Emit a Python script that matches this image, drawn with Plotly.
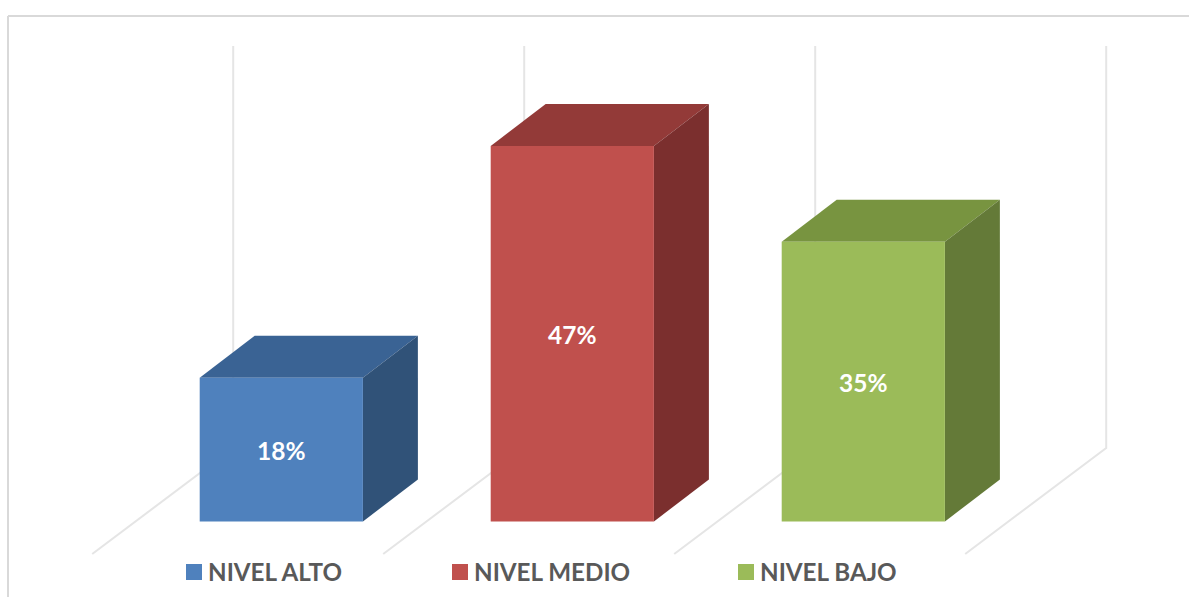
import plotly.graph_objects as go

# Chart data
categories = ["NIVEL ALTO", "NIVEL MEDIO", "NIVEL BAJO"]
values = [18, 47, 35]
labels = ["18%", "47%", "35%"]

# Face colours of each box
front_colors = ["#4f81bd", "#c0504d", "#9bbb59"]
side_colors = ["#305278", "#7b2f2e", "#647a38"]
top_colors = ["#3a6394", "#933a38", "#789440"]

WIDTH, HEIGHT = 1189, 597
PX_PER_CATEGORY = 291.0
PX_PER_PERCENT = 7.99
ORIGIN_X, ORIGIN_Y = 281.3, 521.5  # pixel position of category 0, value 0


def px_x(px):
    return px / PX_PER_CATEGORY


def px_y(px):
    return px / PX_PER_PERCENT


# Projection sizes of the oblique boxes, in axis units
half_width = px_x(81.6)
depth_x, depth_y = px_x(55), px_y(42)

# Floor and back-wall lines
wall_top = 50.3
wall_dx, wall_dy = px_x(33.5), px_y(73.5)  # from a box's front-left corner to the wall foot
floor_dx, floor_dy = px_x(-141), px_y(-106)
label_drop = px_y(4.5)

fig = go.Figure()


def polygon(xs, ys, color):
    fig.add_trace(go.Scatter(
        x=xs + xs[:1], y=ys + ys[:1], mode="lines", fill="toself",
        fillcolor=color, line=dict(color=color, width=0),
        hoverinfo="skip", showlegend=False,
    ))


# Gridlines: one wall line plus floor line per category boundary
for i in range(len(categories) + 1):
    foot_x = i - half_width + wall_dx
    fig.add_trace(go.Scatter(
        x=[foot_x, foot_x, foot_x + floor_dx],
        y=[wall_dy + wall_top, wall_dy, wall_dy + floor_dy],
        mode="lines", line=dict(color="#e5e5e5", width=2),
        hoverinfo="skip", showlegend=False,
    ))

# Boxes: top, side and front faces
for i, value in enumerate(values):
    left, right = i - half_width, i + half_width
    polygon([left, right, right + depth_x, left + depth_x],
            [value, value, value + depth_y, value + depth_y], top_colors[i])
    polygon([right, right + depth_x, right + depth_x, right],
            [0, depth_y, value + depth_y, value], side_colors[i])
    polygon([left, right, right, left], [0, 0, value, value], front_colors[i])

# Value labels centred on the front faces
fig.add_trace(go.Scatter(
    x=list(range(len(categories))), y=[v / 2 - label_drop for v in values],
    mode="text", text=labels, textposition="middle center",
    textfont=dict(family="Lato", size=24.5, color="#ffffff", weight="bold"),
    hoverinfo="skip", showlegend=False,
))

# Legend row
legend_left = [186, 452, 738]
legend_shapes = []
legend_notes = []
for name, color, left in zip(categories, front_colors, legend_left):
    legend_shapes.append(dict(
        type="rect", xref="paper", yref="paper",
        x0=left / WIDTH, x1=(left + 16) / WIDTH,
        y0=1 - 580 / HEIGHT, y1=1 - 564 / HEIGHT,
        fillcolor=color, line=dict(width=0),
    ))
    legend_notes.append(dict(
        text=name, xref="paper", yref="paper",
        x=(left + 20) / WIDTH, y=1 - 571 / HEIGHT,
        xanchor="left", yanchor="middle", showarrow=False,
        font=dict(family="Lato", size=24.2, color="#595959", weight="bold"),
    ))

# Outer frame on the left and top edges
frame_color = "#d9d9d9"
frame = [
    dict(type="line", xref="paper", yref="paper",
         x0=8 / WIDTH, x1=8 / WIDTH, y0=0, y1=1 - 16 / HEIGHT,
         line=dict(color=frame_color, width=2)),
    dict(type="line", xref="paper", yref="paper",
         x0=8 / WIDTH, x1=1, y0=1 - 16 / HEIGHT, y1=1 - 16 / HEIGHT,
         line=dict(color=frame_color, width=2)),
]

fig.update_layout(
    width=WIDTH, height=HEIGHT,
    margin=dict(l=0, r=0, t=0, b=0),
    paper_bgcolor="#ffffff", plot_bgcolor="#ffffff",
    showlegend=False,
    xaxis=dict(range=[px_x(-ORIGIN_X), px_x(WIDTH - ORIGIN_X)], visible=False, fixedrange=True),
    yaxis=dict(range=[px_y(ORIGIN_Y - HEIGHT), px_y(ORIGIN_Y)], visible=False, fixedrange=True),
    shapes=frame + legend_shapes,
    annotations=legend_notes,
)

fig.write_html("out.html", config=dict(displayModeBar=False))
